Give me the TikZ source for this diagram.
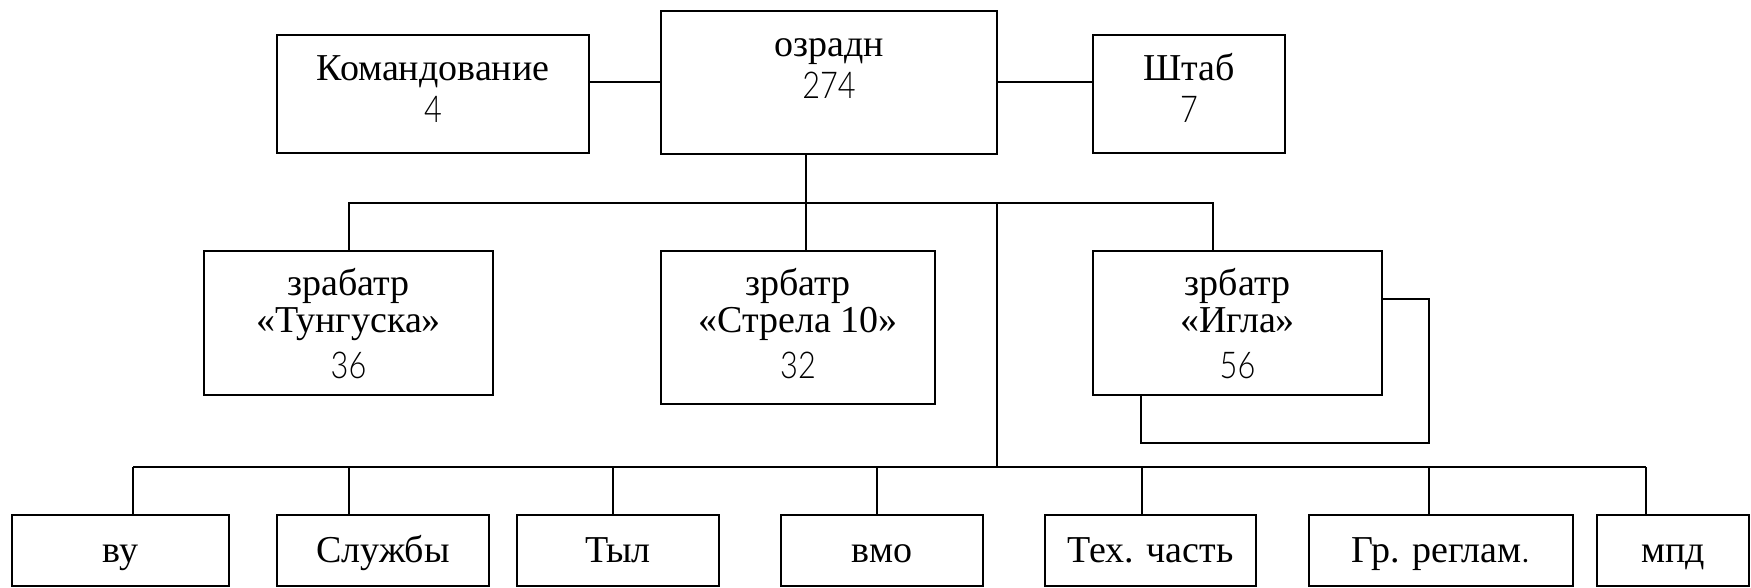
\documentclass[tikz,border=0pt]{standalone}
\usepackage{fontspec}
\setmainfont{Liberation Serif}
\newfontfamily\numfont{Lato Light}
\newcommand\nmtxt[1]{\scalebox{0.93}[1.12]{#1}}
\usetikzlibrary{fit}
\begin{document}
\begin{tikzpicture}[x=0.5pt,y=-0.5pt,
  box/.style={draw, line width=1pt, inner sep=0pt, fill=white},
  wire/.style={line width=1pt},
  lbl/.style={anchor=base, inner sep=0pt, font=\fontsize{19}{22}\selectfont},
  num/.style={anchor=base, inner sep=0pt, font=\numfont\fontsize{16.5}{19}\selectfont}]
\useasboundingbox (0,0) rectangle (1751,588);

% top row
\node[box, fit={(277,35) (589,153)}] (kom) {};
\node[box, fit={(661,11) (997,154)}] (ozr) {};
\node[box, fit={(1093,35) (1285,153)}] (shtab) {};
\node[lbl] (komT) at (433,81) {Командование};
\node[num] (komN) at (433,123) {\nmtxt{4}};
\node[lbl] (ozrT) at (829,57) {озрадн};
\node[num] (ozrN) at (829,99) {\nmtxt{274}};
\node[lbl] (shtabT) at (1189,81) {Штаб};
\node[num] (shtabN) at (1189,123) {\nmtxt{7}};

% middle row
\node[box, fit={(204,251) (493,395)}] (tung) {};
\node[box, fit={(661,251) (935,404)}] (strela) {};
\node[box, fit={(1141,299) (1429,443)}] (iglaB) {};
\node[box, fit={(1093,251) (1382,395)}] (igla) {};
\node[lbl] (tungT1) at (348.5,296) {зрабатр};
\node[lbl] (tungT2) at (348.5,333) {«Тунгуска»};
\node[num] (tungN) at (348.5,379) {\nmtxt{36}};
\node[lbl] (strelaT1) at (798,296) {зрбатр};
\node[lbl] (strelaT2) at (798,333) {«Стрела 10»};
\node[num] (strelaN) at (798,379) {\nmtxt{32}};
\node[lbl] (iglaT1) at (1237.5,296) {зрбатр};
\node[lbl] (iglaT2) at (1237.5,333) {«Игла»};
\node[num] (iglaN) at (1237.5,379) {\nmtxt{56}};

% bottom row
\node[box, fit={(12,515) (229,586)}] (vu) {};
\node[box, fit={(277,515) (489,586)}] (sl) {};
\node[box, fit={(517,515) (719,586)}] (tyl) {};
\node[box, fit={(781,515) (983,586)}] (vmo) {};
\node[box, fit={(1045,515) (1256,586)}] (teh) {};
\node[box, fit={(1309,515) (1573,586)}] (gr) {};
\node[box, fit={(1597,515) (1749,586)}] (mpd) {};
\node[lbl] (vuT) at (120.5,562) {ву};
\node[lbl] (slT) at (383,562) {Службы};
\node[lbl] (tylT) at (618,562) {Тыл};
\node[lbl] (vmoT) at (882,562) {вмо};
\node[lbl] (tehT) at (1150.5,562) {Тех. часть};
\node[lbl] (grT) at (1441,562) {Гр. реглам{\numfont .}};
\node[lbl] (mpdT) at (1673,562) {мпд};

% bus coordinates
\coordinate (t0) at (806,203);
\coordinate (tL) at (349,203);
\coordinate (tR) at (1213,203);
\coordinate (tV) at (997,203);
\coordinate (b0) at (997,467);
\coordinate (bL) at (133,467);
\coordinate (bR) at (1646,467);

% connectors
\draw[wire] (kom.east |- ozr.west) -- (ozr.west);
\draw[wire] (ozr.east) -- (shtab.west |- ozr.east);
\draw[wire] (ozr.south -| t0) -- (t0);
\draw[wire] (tung.north -| tL) -- (tL) -- (tR) -- (igla.north -| tR);
\draw[wire] (t0) -- (strela.north -| t0);
\draw[wire] (tV) -- (b0);
\draw[wire] (bL) -- (bR);
\draw[wire] (bL) -- (vu.north -| bL);
\draw[wire] (349,467) -- (sl.north -| 349,0);
\draw[wire] (613,467) -- (tyl.north -| 613,0);
\draw[wire] (877,467) -- (vmo.north -| 877,0);
\draw[wire] (1142,467) -- (teh.north -| 1142,0);
\draw[wire] (1429,467) -- (gr.north -| 1429,0);
\draw[wire] (bR) -- (mpd.north -| bR);
\end{tikzpicture}
\end{document}
